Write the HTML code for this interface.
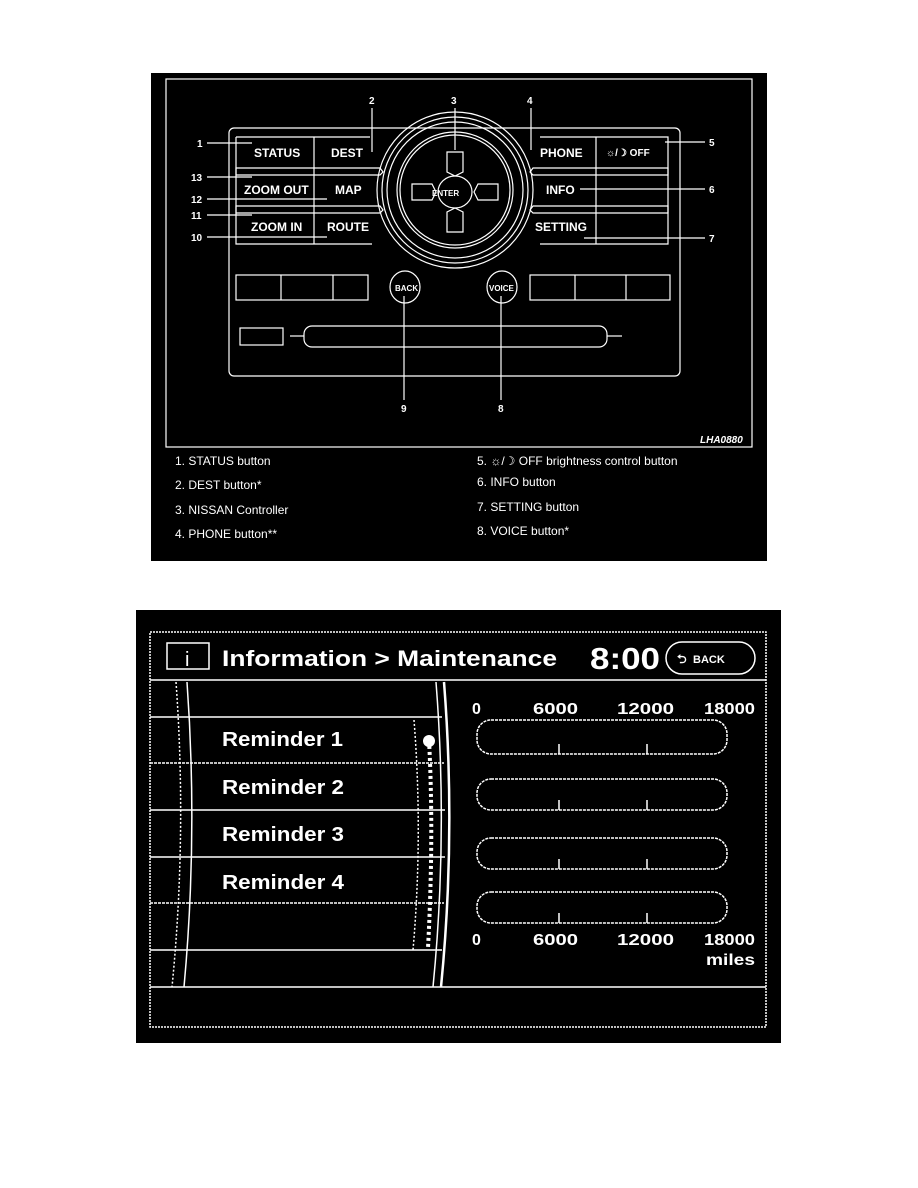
<!DOCTYPE html>
<html><head><meta charset="utf-8"><style>
html,body{margin:0;padding:0;background:#fff;}
svg{display:block;}
text{font-family:"Liberation Sans",Arial,sans-serif;fill:#fff;font-weight:bold;}
</style></head><body>
<svg width="918" height="1188" viewBox="0 0 918 1188" xmlns="http://www.w3.org/2000/svg">
<rect x="0" y="0" width="918" height="1188" fill="#fff"/>
<!-- TOP PANEL -->
<rect x="151" y="73" width="616" height="488" fill="#000"/>
<rect x="166" y="79" width="586" height="368" fill="none" stroke="#fff" stroke-width="1.2"/>
<g stroke="#fff" fill="none" stroke-width="1.2">
<rect x="229" y="128" width="451" height="248" rx="5"/>
<path d="M236 137 H370 M236 137 V244 H372"/>
<line x1="314" y1="137" x2="314" y2="244"/>
<path d="M236 168 H380 l3 4 l-3 3 H236 Z"/>
<path d="M236 206 H380 l3 4 l-3 3 H236 Z"/>
<path d="M540 137 H668 V244 H540"/>
<line x1="596" y1="137" x2="596" y2="244"/>
<path d="M668 168 H533 l-3 4 l3 3 H668 Z"/>
<path d="M668 206 H533 l-3 4 l3 3 H668 Z"/>
<circle cx="455" cy="190" r="78"/>
<circle cx="455" cy="190" r="73"/>
<circle cx="455" cy="190" r="68"/>
<circle cx="455" cy="190" r="58"/>
<circle cx="455" cy="190" r="55"/>
<ellipse cx="455" cy="192" rx="17" ry="16"/>
<path d="M447 152 h16 v20 l-8 4 l-8 -4 Z"/>
<path d="M447 232 h16 v-20 l-8 -4 l-8 4 Z"/>
<path d="M412 184 v16 h20 l4 -8 l-4 -8 Z"/>
<path d="M498 184 v16 h-20 l-4 -8 l4 -8 Z"/>
<rect x="236" y="275" width="132" height="25"/>
<line x1="281" y1="275" x2="281" y2="300"/><line x1="333" y1="275" x2="333" y2="300"/>
<rect x="530" y="275" width="140" height="25"/>
<line x1="575" y1="275" x2="575" y2="300"/><line x1="626" y1="275" x2="626" y2="300"/>
<ellipse cx="405" cy="287" rx="15" ry="16"/>
<ellipse cx="502" cy="287" rx="15" ry="16"/>
<rect x="240" y="328" width="43" height="17"/>
<rect x="304" y="326" width="303" height="21" rx="8"/>
<line x1="290" y1="336" x2="304" y2="336"/><line x1="607" y1="336" x2="622" y2="336"/>
<line x1="207" y1="143" x2="252" y2="143"/>
<line x1="372" y1="108" x2="372" y2="152"/>
<line x1="455" y1="108" x2="455" y2="150"/>
<line x1="531" y1="108" x2="531" y2="150"/>
<line x1="665" y1="142" x2="705" y2="142"/>
<line x1="207" y1="177" x2="252" y2="177"/>
<line x1="580" y1="189" x2="705" y2="189"/>
<line x1="207" y1="199" x2="327" y2="199"/>
<line x1="207" y1="215" x2="252" y2="215"/>
<line x1="584" y1="238" x2="705" y2="238"/>
<line x1="207" y1="237" x2="327" y2="237"/>
<line x1="404" y1="296" x2="404" y2="400"/>
<line x1="501" y1="296" x2="501" y2="400"/>
</g>
<g font-size="12">
<text x="254" y="157">STATUS</text>
<text x="331" y="157">DEST</text>
<text x="244" y="194">ZOOM OUT</text>
<text x="335" y="194">MAP</text>
<text x="251" y="231">ZOOM IN</text>
<text x="327" y="231">ROUTE</text>
<text x="540" y="157">PHONE</text>
<text x="606" y="156" font-size="10">☼/☽ OFF</text>
<text x="546" y="194">INFO</text>
<text x="535" y="231">SETTING</text>
<text x="432" y="196" font-size="8">ENTER</text>
<text x="395" y="291" font-size="8">BACK</text>
<text x="489" y="291" font-size="8">VOICE</text>
</g>
<g font-size="10">
<text x="369" y="104">2</text><text x="451" y="104">3</text><text x="527" y="104">4</text>
<text x="197" y="147">1</text><text x="709" y="146">5</text><text x="191" y="181">13</text>
<text x="709" y="193">6</text><text x="191" y="203">12</text><text x="191" y="219">11</text>
<text x="709" y="242">7</text><text x="191" y="241">10</text>
<text x="401" y="412">9</text><text x="498" y="412">8</text>
<text x="700" y="443" font-style="italic">LHA0880</text>
</g>
<g font-size="12">
<text x="175" y="465" style="font-weight:normal">1.  STATUS button</text>
<text x="175" y="489" style="font-weight:normal">2.  DEST button*</text>
<text x="175" y="514" style="font-weight:normal">3.  NISSAN Controller</text>
<text x="175" y="538" style="font-weight:normal">4.  PHONE button**</text>
<text x="477" y="465" style="font-weight:normal">5.  ☼/☽   OFF brightness control button</text>
<text x="477" y="486" style="font-weight:normal">6.  INFO button</text>
<text x="477" y="511" style="font-weight:normal">7.  SETTING button</text>
<text x="477" y="535" style="font-weight:normal">8.  VOICE button*</text>
</g>
<!-- BOTTOM PANEL -->
<rect x="136" y="610" width="645" height="433" fill="#000"/>
<g stroke="#fff" fill="none" stroke-width="1.5">
<rect x="150" y="632" width="616" height="395" stroke-dasharray="2 1"/>
<line x1="150" y1="680" x2="766" y2="680"/>
<line x1="150" y1="987" x2="766" y2="987"/>
<rect x="167" y="643" width="42" height="26"/>
<rect x="666" y="642" width="89" height="32" rx="16"/>
<line x1="150" y1="717" x2="442" y2="717"/>
<line x1="150" y1="763" x2="444" y2="763" stroke-dasharray="3 1"/>
<line x1="150" y1="810" x2="445" y2="810"/>
<line x1="150" y1="857" x2="445" y2="857"/>
<line x1="150" y1="903" x2="444" y2="903" stroke-dasharray="3 1"/>
<line x1="150" y1="950" x2="442" y2="950"/>
<path d="M187 682 Q198 835 184 987"/>
<path d="M176 682 Q187 835 172 987" stroke-dasharray="2 2"/>
<path d="M436 682 Q448 835 433 987"/>
<path d="M444 682 Q456 835 441 987" stroke-width="2.5"/>
<path d="M414 720 Q423 835 413 950" stroke-dasharray="2 2"/>
<path d="M429 740 Q434 835 428 948" stroke-dasharray="3 3" stroke-width="4"/>
<rect x="477" y="720" width="250" height="34" rx="14" stroke-dasharray="3 1"/>
<rect x="477" y="779" width="250" height="31" rx="14" stroke-dasharray="3 1"/>
<rect x="477" y="838" width="250" height="31" rx="14" stroke-dasharray="3 1"/>
<rect x="477" y="892" width="250" height="31" rx="14" stroke-dasharray="3 1"/>
<path d="M559 744 v10 M647 744 v10 M559 800 v10 M647 800 v10 M559 859 v10 M647 859 v10 M559 913 v10 M647 913 v10"/>
</g>
<circle cx="429" cy="741" r="6" fill="#fff"/>
<text x="185" y="666" font-size="20" style="font-weight:normal">i</text>
<text x="222" y="666" font-size="22" textLength="335" lengthAdjust="spacingAndGlyphs">Information &gt; Maintenance</text>
<text x="590" y="669" font-size="31" textLength="70" lengthAdjust="spacingAndGlyphs">8:00</text>
<text x="677" y="663" font-size="12">⮌</text>
<text x="693" y="663" font-size="11">BACK</text>
<g font-size="20">
<text x="222" y="746" textLength="121" lengthAdjust="spacingAndGlyphs">Reminder 1</text>
<text x="222" y="794" textLength="122" lengthAdjust="spacingAndGlyphs">Reminder 2</text>
<text x="222" y="841" textLength="122" lengthAdjust="spacingAndGlyphs">Reminder 3</text>
<text x="222" y="889" textLength="122" lengthAdjust="spacingAndGlyphs">Reminder 4</text>
</g>
<g font-size="16">
<text x="472" y="714">0</text><text x="533" y="714" textLength="45" lengthAdjust="spacingAndGlyphs">6000</text><text x="617" y="714" textLength="57" lengthAdjust="spacingAndGlyphs">12000</text><text x="704" y="714" textLength="51" lengthAdjust="spacingAndGlyphs">18000</text>
<text x="472" y="945">0</text><text x="533" y="945" textLength="45" lengthAdjust="spacingAndGlyphs">6000</text><text x="617" y="945" textLength="57" lengthAdjust="spacingAndGlyphs">12000</text><text x="704" y="945" textLength="51" lengthAdjust="spacingAndGlyphs">18000</text>
<text x="706" y="965" textLength="49" lengthAdjust="spacingAndGlyphs">miles</text>
</g>
</svg>
</body></html>
